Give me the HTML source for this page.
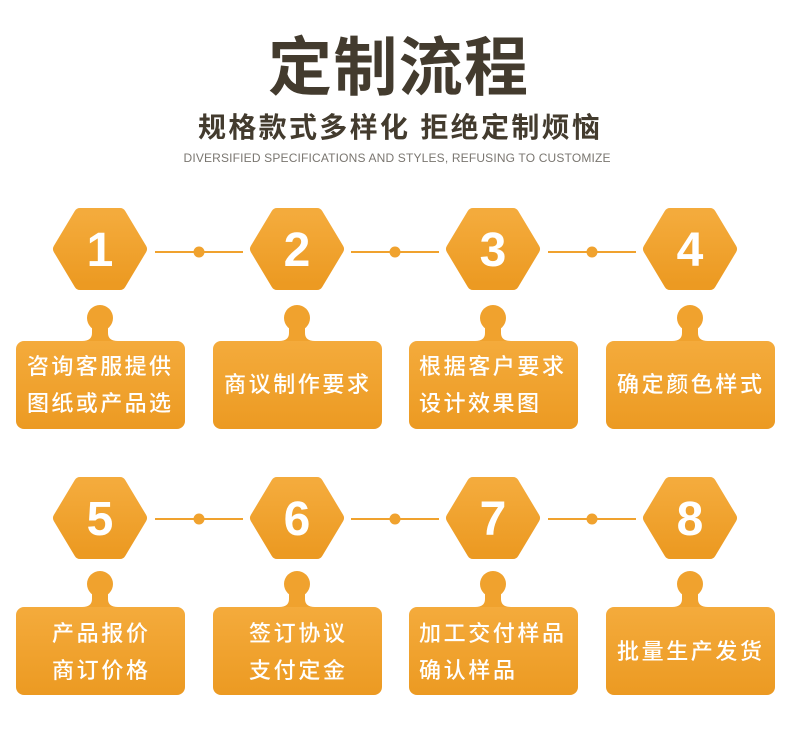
<!DOCTYPE html>
<html><head><meta charset="utf-8"><style>
html,body{margin:0;padding:0;background:#fff;}
svg{display:block;}
text{font-family:"Liberation Sans","Noto Sans CJK SC",sans-serif;}
</style></head><body>
<svg width="790" height="747" viewBox="0 0 790 747" xmlns="http://www.w3.org/2000/svg">
<defs>
<linearGradient id="g" x1="0" y1="0" x2="0" y2="1">
<stop offset="0" stop-color="#f4ab3c"/><stop offset="1" stop-color="#ec9a22"/>
</linearGradient>
<g id="hex"><path d="M-41,0 L-20,-35 L20,-35 L41,0 L20,35 L-20,35 Z" fill="url(#g)" stroke="url(#g)" stroke-width="12" stroke-linejoin="round"/></g>
<g id="tag">
<circle cx="0" cy="-23" r="13" fill="#f0a22e"/>
<path d="M-8,-14 L-8,-8 Q-8,0 -18,0 L18,0 Q8,0 8,-8 L8,-14 Z" fill="#f0a22e"/>
<rect x="-84" y="0" width="169" height="88" rx="8" fill="url(#g)"/>
</g>
<g id="conn"><line x1="-44" y1="0" x2="44" y2="0" stroke="#f0a22e" stroke-width="2"/><circle cx="0" cy="0" r="5.5" fill="#f0a22e"/></g>
</defs>
<text x="398" y="90" font-size="64" font-weight="bold" fill="#433b2e" text-anchor="middle" font-family="'Noto Sans CJK SC',sans-serif" textLength="260">定制流程</text>
<text x="399" y="137" font-size="28" font-weight="bold" fill="#433b2e" text-anchor="middle" font-family="'Noto Sans CJK SC',sans-serif" textLength="402">规格款式多样化 拒绝定制烦恼</text>
<text x="397" y="162" font-size="12" fill="#7a7670" text-anchor="middle" textLength="427">DIVERSIFIED SPECIFICATIONS AND STYLES, REFUSING TO CUSTOMIZE</text>

<g fill="#fff" font-weight="bold" font-size="48" text-anchor="middle">
<use href="#hex" x="100" y="249"/><use href="#hex" x="297" y="249"/><use href="#hex" x="493" y="249"/><use href="#hex" x="690" y="249"/>
<use href="#conn" x="199" y="252"/><use href="#conn" x="395" y="252"/><use href="#conn" x="592" y="252"/>
<use href="#hex" x="100" y="518"/><use href="#hex" x="297" y="518"/><use href="#hex" x="493" y="518"/><use href="#hex" x="690" y="518"/>
<use href="#conn" x="199" y="519"/><use href="#conn" x="395" y="519"/><use href="#conn" x="592" y="519"/>
<text x="100" y="266">1</text><text x="297" y="266">2</text><text x="493" y="266">3</text><text x="690" y="266">4</text>
<text x="100" y="535">5</text><text x="297" y="535">6</text><text x="493" y="535">7</text><text x="690" y="535">8</text>
</g>

<use href="#tag" x="100" y="341"/><use href="#tag" x="297" y="341"/><use href="#tag" x="493" y="341"/><use href="#tag" x="690" y="341"/>
<use href="#tag" x="100" y="607"/><use href="#tag" x="297" y="607"/><use href="#tag" x="493" y="607"/><use href="#tag" x="690" y="607"/>

<g fill="#fff" font-size="22" font-weight="500" font-family="'Noto Sans CJK SC',sans-serif">
<text x="27" y="374" textLength="144">咨询客服提供</text><text x="27" y="411" textLength="144">图纸或产品选</text>
<text x="224" y="392" textLength="145">商议制作要求</text>
<text x="419" y="374" textLength="145">根据客户要求</text><text x="419" y="411" textLength="120">设计效果图</text>
<text x="617" y="392" textLength="145">确定颜色样式</text>
<text x="52" y="641" textLength="96">产品报价</text><text x="52" y="678" textLength="96">商订价格</text>
<text x="249" y="641" textLength="96">签订协议</text><text x="249" y="678" textLength="96">支付定金</text>
<text x="419" y="641" textLength="145">加工交付样品</text><text x="419" y="678" textLength="96">确认样品</text>
<text x="617" y="659" textLength="145">批量生产发货</text>
</g>
</svg>
</body></html>
